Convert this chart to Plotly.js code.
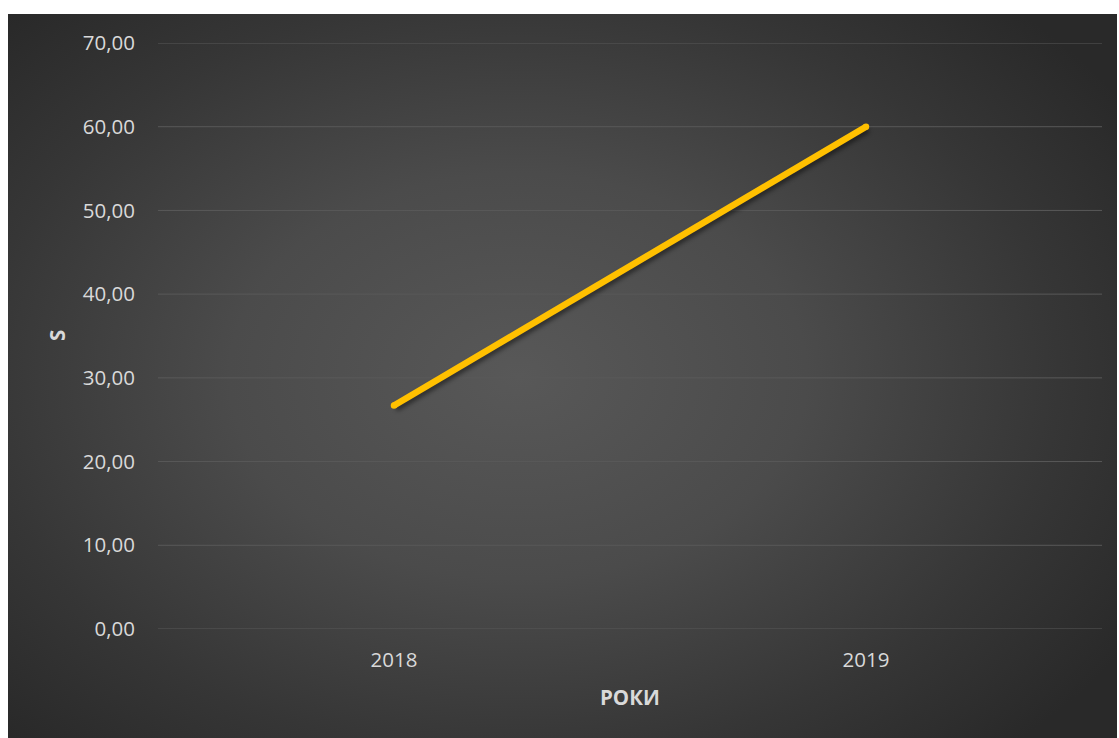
<!DOCTYPE html>
<html>
<head>
<meta charset="utf-8">
<script src="https://cdn.plot.ly/plotly-3.0.1.min.js"></script>
<style>
  html, body { margin: 0; padding: 0; background: #ffffff; width: 1119px; height: 738px; overflow: hidden; }
  #chart {
    position: absolute; left: 8px; top: 14px; width: 1109px; height: 724px;
    background: radial-gradient(ellipse 65% 70% at 46% 50%, #585858 0%, #4b4b4b 40%, #363636 75%, #292929 100%);
  }
  .scatterlayer .js-line { filter: drop-shadow(2px 3px 2px rgba(0,0,0,0.45)); }
</style>
</head>
<body>
<div id="chart"></div>
<script>
const years = ['2018', '2019'];
const sValues = [26.7, 60.0];
const yTickVals = [0, 10, 20, 30, 40, 50, 60, 70];
const yTickText = ['0,00', '10,00', '20,00', '30,00', '40,00', '50,00', '60,00', '70,00'];
const xTitle = 'РОКИ';
const yTitle = 'S';

const trace = {
  x: years, y: sValues, type: 'scatter', mode: 'lines+markers',
  line: { color: '#FFC000', width: 6.5 },
  marker: { color: '#FFC000', size: 6.5 },
  hoverinfo: 'skip', showlegend: false
};

// gridlines drawn as shapes so the edge lines (0 and 70) are kept
const gridShapes = yTickVals.map(v => ({
  type: 'line', xref: 'paper', yref: 'y', x0: 0, x1: 1, y0: v, y1: v,
  line: { color: '#595959', width: 1 }, layer: 'below'
}));

const layout = {
  width: 1109, height: 724,
  paper_bgcolor: 'rgba(0,0,0,0)', plot_bgcolor: 'rgba(0,0,0,0)',
  margin: { l: 150, r: 15, t: 29, b: 109 },
  font: { family: 'Open Sans, sans-serif', color: '#d9d9d9', size: 20.5 },
  xaxis: {
    type: 'category', range: [-0.5, 1.5], showgrid: false, zeroline: false, showline: false,
    ticks: '', ticklabelstandoff: 16,
    tickfont: { size: 20.5, color: '#d9d9d9' },
    automargin: false, fixedrange: true
  },
  yaxis: {
    range: [0, 70], tickvals: yTickVals, ticktext: yTickText,
    showgrid: false, zeroline: false, showline: false, ticks: '',
    ticklabelstandoff: 22,
    tickfont: { size: 20.5, color: '#d9d9d9' },
    automargin: false, fixedrange: true
  },
  shapes: gridShapes,
  annotations: [
    { text: '<b>' + xTitle + '</b>', xref: 'paper', yref: 'paper', x: 0.5, y: 0,
      xanchor: 'center', yanchor: 'middle', yshift: -68, xshift: 0,
      showarrow: false, font: { size: 20.5, color: '#d9d9d9' } },
    { text: '<b>' + yTitle + '</b>', xref: 'paper', yref: 'paper', x: 0, y: 0.5,
      xanchor: 'center', yanchor: 'middle', xshift: -101, yshift: 0,
      textangle: -90, showarrow: false, font: { size: 20.5, color: '#d9d9d9' } }
  ]
};

Plotly.newPlot('chart', [trace], layout, { displayModeBar: false, staticPlot: true });
</script>
</body>
</html>
